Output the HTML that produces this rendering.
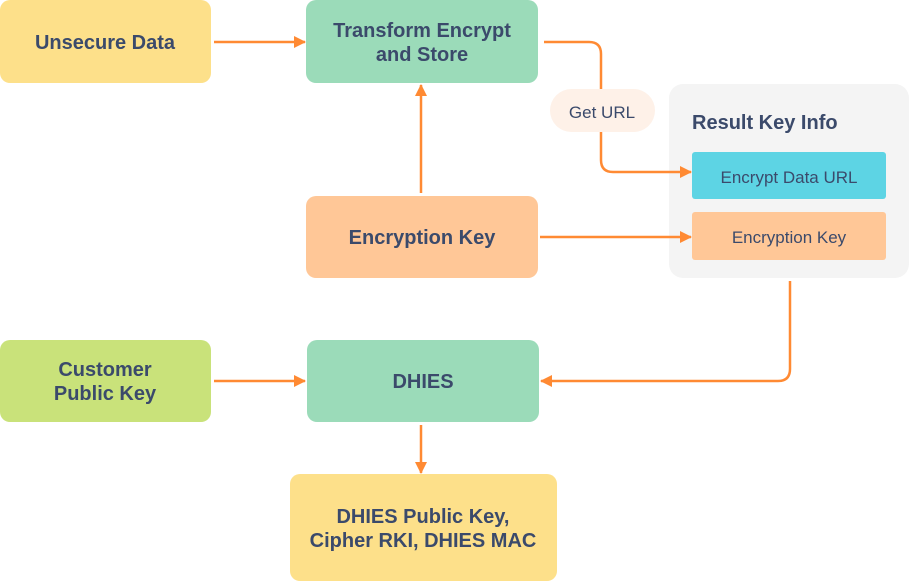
<!DOCTYPE html>
<html><head><style>
html,body{margin:0;padding:0;background:#fff;width:910px;height:583px;overflow:hidden}
svg text{font-family:"Liberation Sans",sans-serif;fill:#3b4a6b}
.b{font-weight:bold;font-size:20px}
.n{font-size:17px}
</style></head><body>
<svg width="910" height="583" viewBox="0 0 910 583" xmlns="http://www.w3.org/2000/svg">
<defs><marker id="a" markerWidth="12" markerHeight="12" refX="11" refY="6" orient="auto" markerUnits="userSpaceOnUse"><path d="M0,0 L12,6 L0,12 z" fill="#ff8a33"/></marker></defs>
<rect x="669" y="84" width="240" height="194" rx="14" fill="#f4f4f4"/>
<rect x="0" y="0" width="211" height="83" rx="10" fill="#fde08a"/>
<rect x="306" y="0" width="232" height="83" rx="10" fill="#9bdbb9"/>
<rect x="306" y="196" width="232" height="82" rx="10" fill="#ffc797"/>
<rect x="0" y="340" width="211" height="82" rx="10" fill="#c9e27a"/>
<rect x="307" y="340" width="232" height="82" rx="10" fill="#9bdbb9"/>
<rect x="290" y="474" width="267" height="107" rx="10" fill="#fde08a"/>
<rect x="692" y="152" width="194" height="47" rx="3" fill="#5dd4e4"/>
<rect x="692" y="212" width="194" height="48" rx="3" fill="#ffc797"/>
<g stroke="#ff8a33" stroke-width="2.5" fill="none">
<path d="M214,42 H305" marker-end="url(#a)"/>
<path d="M544,42 H589 Q601,42 601,54 V160 Q601,172 613,172 H691" marker-end="url(#a)"/>
<path d="M421,193 V85" marker-end="url(#a)"/>
<path d="M540,237 H691" marker-end="url(#a)"/>
<path d="M790,281 V369 Q790,381 778,381 H541" marker-end="url(#a)"/>
<path d="M214,381 H305" marker-end="url(#a)"/>
<path d="M421,425 V473" marker-end="url(#a)"/>
</g>
<rect x="550" y="89" width="105" height="43" rx="21.5" fill="#fef1e8"/>
<text x="602" y="118" class="n" text-anchor="middle" font-size="18">Get URL</text>
<text x="105" y="49" class="b" text-anchor="middle">Unsecure Data</text>
<text x="422" y="37" class="b" text-anchor="middle">Transform Encrypt</text>
<text x="422" y="61" class="b" text-anchor="middle">and Store</text>
<text x="422" y="244" class="b" text-anchor="middle">Encryption Key</text>
<text x="105" y="376" class="b" text-anchor="middle">Customer</text>
<text x="105" y="400" class="b" text-anchor="middle">Public Key</text>
<text x="423" y="388" class="b" text-anchor="middle">DHIES</text>
<text x="423" y="523" class="b" text-anchor="middle">DHIES Public Key,</text>
<text x="423" y="547" class="b" text-anchor="middle">Cipher RKI, DHIES MAC</text>
<text x="692" y="129" class="b">Result Key Info</text>
<text x="789" y="183" class="n" text-anchor="middle">Encrypt Data URL</text>
<text x="789" y="243" class="n" text-anchor="middle">Encryption Key</text>
</svg>
</body></html>
